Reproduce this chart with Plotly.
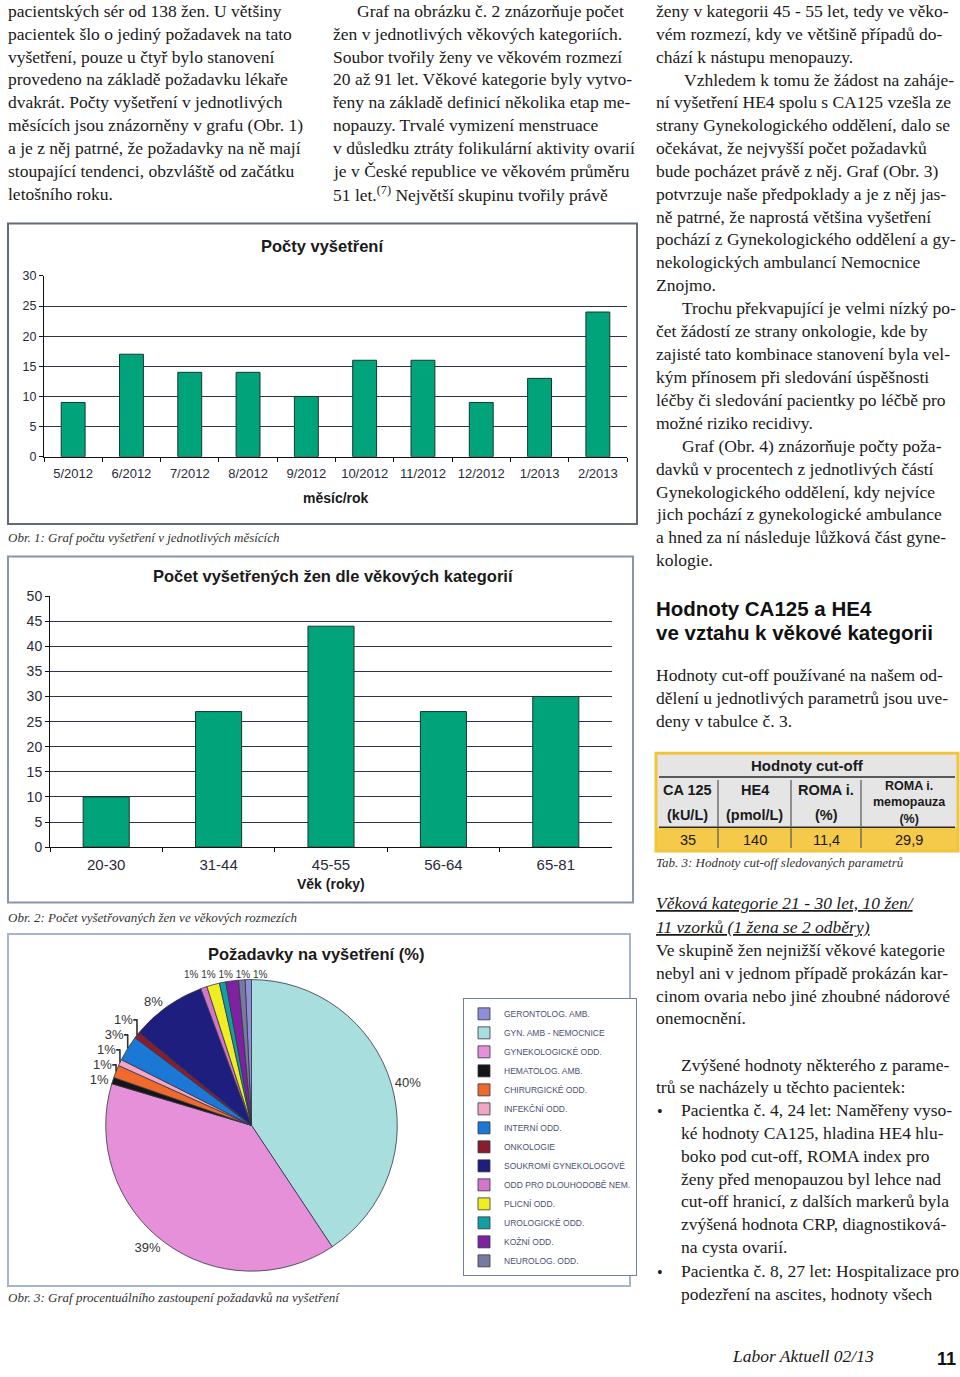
import plotly.graph_objects as go

W, H = 960, 1377


def fx(x):
    return x / W


def fy(y):
    return 1 - y / H


# ---------------- data ----------------
months = ["5/2012", "6/2012", "7/2012", "8/2012", "9/2012", "10/2012",
          "11/2012", "12/2012", "1/2013", "2/2013"]
exams_per_month = [9, 17, 14, 14, 10, 16, 16, 9, 13, 24]

age_groups = ["20-30", "31-44", "45-55", "56-64", "65-81"]
women_per_age = [10, 27, 44, 27, 30]

departments = ["GERONTOLOG. AMB.", "GYN. AMB - NEMOCNICE", "GYNEKOLOGICKÉ ODD.",
               "HEMATOLOG. AMB.", "CHIRURGICKÉ ODD.", "INFEKČNÍ ODD.",
               "INTERNÍ ODD.", "ONKOLOGIE", "SOUKROMÍ GYNEKOLOGOVÉ",
               "ODD PRO DLOUHODOBĚ NEM.", "PLICNÍ ODD.", "UROLOGICKÉ ODD.",
               "KOŽNÍ ODD.", "NEUROLOG. ODD."]
request_pct = [0.7, 40.3, 38.6, 0.7, 1.4, 0.7, 2.8, 0.7, 8.3, 0.7, 1.4, 0.7, 1.4, 0.7]
dept_colors = ["#8c8fd6", "#a8dede", "#e690da", "#151515", "#ef6a2c", "#f2a6c6",
               "#1b78d6", "#8a1c2c", "#1e1e7e", "#d276cc", "#eeee22", "#12a0a4",
               "#7e22a2", "#767aa0"]
# slices whose labels crowd together at the top of the pie (shown as one label row)
crowded_top = [0, 9, 10, 11, 12, 13]

cutoff_title = "Hodnoty cut-off"
cutoff_names = ["CA 125", "HE4", "ROMA i.", "ROMA i.|memopauza"]
cutoff_units = ["(kU/L)", "(pmol/L)", "(%)", "(%)"]
cutoff_values = ["35", "140", "11,4", "29,9"]

fig = go.Figure()

BAR_COLOR = "#00a37a"
BAR_LINE = "#17392c"

# ---------------- chart 1 ----------------
fig.add_trace(go.Bar(x=months, y=exams_per_month, marker=dict(color=BAR_COLOR,
              line=dict(color=BAR_LINE, width=1)), xaxis="x", yaxis="y",
              showlegend=False, hoverinfo="x+y"))
# ---------------- chart 2 ----------------
fig.add_trace(go.Bar(x=age_groups, y=women_per_age, marker=dict(color=BAR_COLOR,
              line=dict(color=BAR_LINE, width=1)), xaxis="x2", yaxis="y2",
              showlegend=False, hoverinfo="x+y"))
# ---------------- chart 3 ----------------
text_pos = ["none" if i in crowded_top else "outside" for i in range(len(departments))]
fig.add_trace(go.Pie(labels=departments, values=request_pct, sort=False,
                     direction="clockwise",
                     rotation=-360 * request_pct[0] / sum(request_pct),
                     marker=dict(colors=dept_colors, line=dict(color="#333344", width=0.8)),
                     textposition=text_pos, texttemplate="%{value:.0f}%",
                     textfont=dict(family="Arial", size=13, color="#333333"),
                     domain=dict(x=[fx(104), fx(399)], y=[fy(1278), fy(983)]),
                     showlegend=True))

axis_common = dict(showline=True, linecolor="#111111", linewidth=1, ticks="outside",
                   ticklen=4, tickcolor="#111111", zeroline=False)

fig.update_layout(
    width=W, height=H, margin=dict(l=0, r=0, t=0, b=0),
    paper_bgcolor="white", plot_bgcolor="#a7b6d6",
    bargap=0.59,
    xaxis=dict(domain=[fx(44), fx(627)], anchor="y", tickson="boundaries",
               tickfont=dict(family="Arial", size=13, color="#2a2a3a"),
               ticklabelstandoff=5, **axis_common),
    yaxis=dict(domain=[fy(454), fy(271)], anchor="x", range=[0, 30], dtick=5,
               showgrid=True, gridcolor="#2c3452", gridwidth=1,
               tickfont=dict(family="Arial", size=12.5, color="#2a2a3a"), **axis_common),
    xaxis2=dict(domain=[fx(50), fx(612)], anchor="y2", tickson="boundaries",
                tickfont=dict(family="Arial", size=15, color="#2a2a3a"),
                ticklabelstandoff=4, **axis_common),
    yaxis2=dict(domain=[fy(849), fy(595)], anchor="x2", range=[0, 50], dtick=5,
                showgrid=True, gridcolor="#2c3452", gridwidth=1,
                tickfont=dict(family="Arial", size=14, color="#2a2a3a"), **axis_common),
    legend=dict(x=fx(463), y=fy(1002), xanchor="left", yanchor="top",
                bgcolor="white", bordercolor="#6f7fa0", borderwidth=1,
                font=dict(family="Arial", size=8.5, color="#4a5070"),
                itemwidth=30, traceorder="normal"),
)

shapes = []
# chart frames
for (x0, y0, x1, y1, col) in [(8, 218, 637, 522, "#626a78"),
                              (8, 555, 633, 905, "#8796aa"),
                              (8, 937, 630, 1293, "#a6b6c8")]:
    shapes.append(dict(type="rect", xref="paper", yref="paper", x0=fx(x0), x1=fx(x1),
                       y0=fy(y1), y1=fy(y0), line=dict(color=col, width=2),
                       fillcolor="white", layer="below"))

ann = []


def txt(x, y, s, size=17.5, family="Liberation Serif", color="#1a1a1a", anchor="left", dy=-4):
    ann.append(dict(x=fx(x), y=fy(y + dy), xref="paper", yref="paper", text=s,
                    showarrow=False, xanchor=anchor, yanchor="middle",
                    font=dict(family=family, size=size, color=color)))


# ---------------- table (Tab. 3) ----------------
T_X0, T_Y0 = 657, 755
COL_W = [61, 73, 70, 96]
ROW_H = [23, 51, 23]
col_edges = [T_X0]
for w in COL_W:
    col_edges.append(col_edges[-1] + w)
row_edges = [T_Y0]
for h in ROW_H:
    row_edges.append(row_edges[-1] + h)
T_X1, T_Y1 = col_edges[-1], row_edges[-1]


def rect(x0, y0, x1, y1, fill=None, line=None, lw=0, layer="above"):
    d = dict(type="rect", xref="paper", yref="paper", x0=fx(x0), x1=fx(x1),
             y0=fy(y1), y1=fy(y0), layer=layer,
             line=dict(width=lw, color=line or "rgba(0,0,0,0)"))
    if fill:
        d["fillcolor"] = fill
    shapes.append(d)


def hline(x0, x1, y, color, w):
    shapes.append(dict(type="line", xref="paper", yref="paper", x0=fx(x0), x1=fx(x1),
                       y0=fy(y), y1=fy(y), line=dict(color=color, width=w)))


def vline(x, y0, y1, color, w):
    shapes.append(dict(type="line", xref="paper", yref="paper", x0=fx(x), x1=fx(x),
                       y0=fy(y1), y1=fy(y0), line=dict(color=color, width=w)))


rect(T_X0, row_edges[0], T_X1, row_edges[2], fill="#e5e5e5")
rect(T_X0, row_edges[2], T_X1, row_edges[3], fill="#f5c94a")
hline(T_X0 + 2, T_X1 - 2, row_edges[1], "#2a2a2a", 1.5)
hline(T_X0 + 2, T_X1 - 2, row_edges[2], "#2a2a2a", 1.5)
for xe in col_edges[1:-1]:
    vline(xe, row_edges[1] + 3, row_edges[2] - 1, "#555555", 1.2)
    vline(xe, row_edges[2] + 1, row_edges[3] - 2, "#555555", 1.2)
rect(T_X0 - 1, T_Y0 - 1, T_X1 + 1, T_Y1 + 1, line="#f0c53c", lw=3)

txt((T_X0 + T_X1) / 2, (row_edges[0] + row_edges[1]) / 2, "<b>" + cutoff_title + "</b>",
    size=15, family="Liberation Sans", anchor="center", dy=0)
for i in range(len(cutoff_names)):
    cx = (col_edges[i] + col_edges[i + 1]) / 2
    parts = cutoff_names[i].split("|")
    if len(parts) == 1:
        txt(cx, row_edges[1] + 13, "<b>" + parts[0] + "</b>", size=14.5,
            family="Liberation Sans", anchor="center", dy=0)
        txt(cx, row_edges[2] - 13, "<b>" + cutoff_units[i] + "</b>", size=14.5,
            family="Liberation Sans", anchor="center", dy=0)
    else:
        stacked = "<br>".join("<b>%s</b>" % p for p in parts + [cutoff_units[i]])
        txt(cx, (row_edges[1] + row_edges[2]) / 2, stacked, size=12.5,
            family="Liberation Sans", anchor="center", dy=0)
    txt(cx, (row_edges[2] + row_edges[3]) / 2 + 1, cutoff_values[i], size=14.5,
        family="Liberation Sans", anchor="center", dy=0)

fig.update_layout(shapes=shapes)


def block(x, y0, lines, step=23.1, indent_first=0, **kw):
    for i, s in enumerate(lines):
        txt(x + (indent_first if i == 0 else 0), y0 + i * step, s, **kw)


col1 = ["pacientských sér od 138 žen. U většiny",
        "pacientek šlo o jediný požadavek na tato",
        "vyšetření, pouze u čtyř bylo stanovení",
        "provedeno na základě požadavku lékaře",
        "dvakrát. Počty vyšetření v jednotlivých",
        "měsících jsou znázorněny v grafu (Obr. 1)",
        "a je z něj patrné, že požadavky na ně mají",
        "stoupající tendenci, obzvláště od začátku",
        "letošního roku."]
block(6, 7, col1)

col2 = ["Graf na obrázku č. 2 znázorňuje počet",
        "žen v jednotlivých věkových kategoriích.",
        "Soubor tvořily ženy ve věkovém rozmezí",
        "20 až 91 let. Věkové kategorie byly vytvo-",
        "řeny na základě definicí několika etap me-",
        "nopauzy. Trvalé vymizení menstruace",
        "v důsledku ztráty folikulární aktivity ovarií",
        "je v České republice ve věkovém průměru",
        "51 let.<sup>(7)</sup> Největší skupinu tvořily právě"]
block(331, 7, col2, indent_first=24)

col3a = ["ženy v kategorii 45 - 55 let, tedy ve věko-",
         "vém rozmezí, kdy ve většině případů do-",
         "chází k nástupu menopauzy."]
block(654, 7, col3a)
col3b = ["Vzhledem k tomu že žádost na zaháje-",
         "ní vyšetření HE4 spolu s CA125 vzešla ze",
         "strany Gynekologického oddělení, dalo se",
         "očekávat, že nejvyšší počet požadavků",
         "bude pocházet právě z něj. Graf (Obr. 3)",
         "potvrzuje naše předpoklady a je z něj jas-",
         "ně patrné, že naprostá většina vyšetření",
         "pochází z Gynekologického oddělení a gy-",
         "nekologických ambulancí Nemocnice",
         "Znojmo."]
block(654, 76.5, col3b, indent_first=28)
col3c = ["Trochu překvapující je velmi nízký po-",
         "čet žádostí ze strany onkologie, kde by",
         "zajisté tato kombinace stanovení byla vel-",
         "kým přínosem při sledování úspěšnosti",
         "léčby či sledování pacientky po léčbě pro",
         "možné riziko recidivy."]
block(654, 308, col3c, indent_first=26)
col3d = ["Graf (Obr. 4) znázorňuje počty poža-",
         "davků v procentech z jednotlivých částí",
         "Gynekologického oddělení, kdy nejvíce",
         "jich pochází z gynekologické ambulance",
         "a hned za ní následuje lůžková část gyne-",
         "kologie."]
block(654, 447, col3d, indent_first=26)

block(654, 609, ["<b>Hodnoty CA125 a HE4</b>", "<b>ve vztahu k věkové kategorii</b>"],
      step=23.5, size=20.5, family="Liberation Sans", color="#111111", dy=-1)

block(654, 679, ["Hodnoty cut-off používané na našem od-",
                 "dělení u jednotlivých parametrů jsou uve-",
                 "deny v tabulce č. 3."])

txt(654, 866, "<i>Tab. 3: Hodnoty cut-off sledovaných parametrů</i>", size=13,
    color="#333333", dy=-1)

block(654, 910, ["<i><u>Věková kategorie 21 - 30 let, 10 žen/</u></i>",
                 "<i><u>11 vzorků (1 žena se 2 odběry)</u></i>"], step=23.5)
block(654, 957, ["Ve skupině žen nejnižší věkové kategorie",
                 "nebyl ani v jednom případě prokázán kar-",
                 "cinom ovaria nebo jiné zhoubné nádorové",
                 "onemocnění."])
block(654, 1073, ["Zvýšené hodnoty některého z parame-",
                  "trů se nacházely u těchto pacientek:"], indent_first=25)
txt(655, 1120, "•", size=16)
block(679, 1119, ["Pacientka č. 4, 24 let: Naměřeny vyso-",
                  "ké hodnoty CA125, hladina HE4 hlu-",
                  "boko pod cut-off, ROMA index pro",
                  "ženy před menopauzou byl lehce nad",
                  "cut-off hranicí, z dalších markerů byla",
                  "zvýšená hodnota CRP, diagnostiková-",
                  "na cysta ovarií."])
txt(655, 1283, "•", size=16)
block(679, 1282, ["Pacientka č. 8, 27 let: Hospitalizace pro",
                  "podezření na ascites, hodnoty všech"])

# footer
txt(803, 1368, "<i>Labor Aktuell 02/13</i>", size=17.5, anchor="center")
txt(946, 1368, "<b>11</b>", size=18, family="Liberation Sans", anchor="center",
    color="#111111", dy=-1)

# captions
txt(6, 537, "<i>Obr. 1: Graf počtu vyšetření v jednotlivých měsících</i>", size=13,
    color="#333333", dy=-1)
txt(6, 921, "<i>Obr. 2: Počet vyšetřovaných žen ve věkových rozmezích</i>", size=13,
    color="#333333", dy=-1)
txt(6, 1306, "<i>Obr. 3: Graf procentuálního zastoupení požadavků na vyšetření</i>",
    size=13, color="#333333", dy=-1)

# chart titles
txt(322, 242, "<b>Počty vyšetření</b>", size=16.5, family="Arial", anchor="center", dy=-1)
txt(336, 497, "<b>měsíc/rok</b>", size=14, family="Arial", anchor="center", dy=-1)
txt(333, 576, "<b>Počet vyšetřených žen dle věkových kategorií</b>", size=16.5,
    family="Arial", anchor="center", dy=-1)
txt(331, 887, "<b>Věk (roky)</b>", size=14, family="Arial", anchor="center", dy=-1)
txt(316, 958, "<b>Požadavky na vyšetření (%)</b>", size=16.5, family="Arial",
    anchor="center", dy=-1)

# crowded labels of the thin slices near the top of the pie
top_labels = " ".join("%.0f%%" % request_pct[i] for i in crowded_top[1:])
txt(225, 978, top_labels, size=10, family="Arial", anchor="center", color="#333333", dy=0)

fig.update_layout(annotations=ann)

fig.write_html("out.html", config={"displayModeBar": False},
               post_script="document.body.style.margin='0';")
